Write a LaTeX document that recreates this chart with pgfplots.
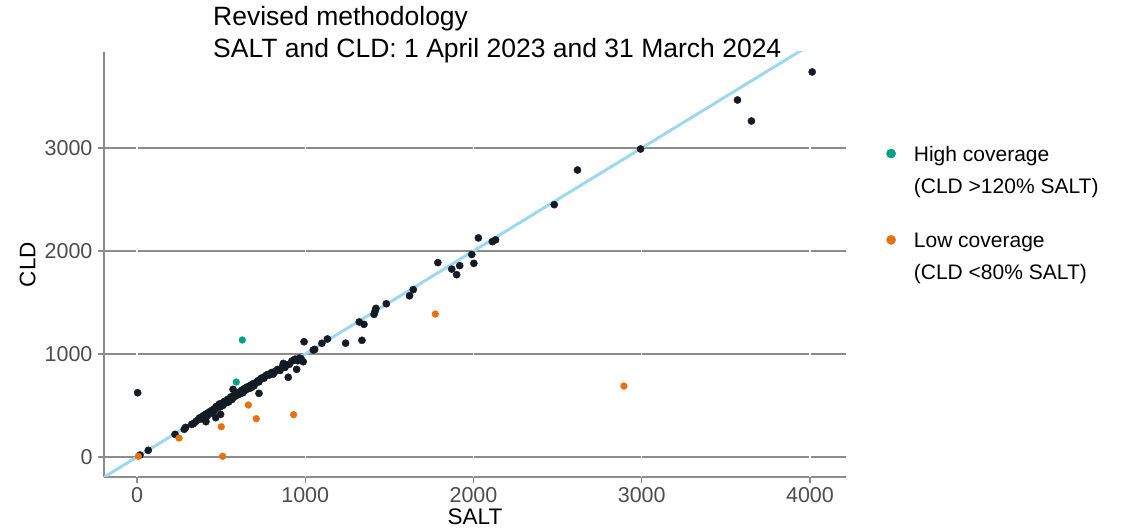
\documentclass[border=0pt]{standalone}
\usepackage{pgfplots}
\pgfplotsset{compat=1.18}
\usepackage{fontspec}
\setmainfont{Liberation Sans}
\definecolor{ptdark}{HTML}{151B24}
\definecolor{ptteal}{HTML}{00A087}
\definecolor{ptorange}{HTML}{E6720F}
\definecolor{diagblue}{HTML}{9ED8EE}
\definecolor{gridgrey}{HTML}{8C8C8C}
\definecolor{ticktext}{HTML}{4D4D4D}
\begin{document}
\begin{tikzpicture}[x=1pt,y=1pt]
\useasboundingbox (0,0) rectangle (1127,530);
\begin{axis}[
  at={(104pt,53pt)}, anchor=south west,
  width=742pt, height=425pt, scale only axis,
  xmin=-196, xmax=4214, ymin=-194, ymax=3932,
  axis x line*=bottom, axis y line*=left,
  axis line style={draw=gridgrey, line width=1.3pt, -},
  xtick={0,1000,2000,3000,4000},
  ytick={0,1000,2000,3000},
  minor tick num=0,
  tick align=outside, major tick length=6pt,
  tick style={draw=gridgrey, line width=1.1pt},
  ymajorgrids=true,
  grid style={draw=gridgrey, line width=1.3pt},
  /pgf/number format/assume math mode=true,
  /pgf/number format/1000 sep={},
  ticklabel style={font=\fontsize{21.5}{24}\selectfont, text=ticktext},
  xticklabel style={yshift=-1pt},
  yticklabel style={xshift=-2pt},
  xlabel={SALT}, ylabel={CLD},
  xlabel style={at={(axis description cs:0.5,-0.094)}, anchor=center, font=\fontsize{22.5}{26}\selectfont},
  ylabel style={at={(axis description cs:-0.103,0.5)}, anchor=center, font=\fontsize{22.5}{26}\selectfont},
  clip=true,
  legend style={at={(axis description cs:1.05,0.62)}, anchor=west, draw=none, fill=none,
    font=\fontsize{21}{32}\selectfont, cells={align=left, anchor=west}, row sep=34pt, column sep=16pt},
  legend image code/.code={\fill[#1] (0.1cm,17pt) circle (4.6pt);},
  legend cell align=left,
]
% white vertical gridlines
\addplot[white, line width=1.3pt, forget plot] coordinates {(0,-194) (0,3932)};
\addplot[white, line width=1.3pt, forget plot] coordinates {(1000,-194) (1000,3932)};
\addplot[white, line width=1.3pt, forget plot] coordinates {(2000,-194) (2000,3932)};
\addplot[white, line width=1.3pt, forget plot] coordinates {(3000,-194) (3000,3932)};
\addplot[white, line width=1.3pt, forget plot] coordinates {(4000,-194) (4000,3932)};
% y = x line
\addplot[diagblue, line width=3pt, forget plot] coordinates {(-300,-300) (4300,4300)};
% normal coverage
\addplot[only marks, mark=*, mark size=3.6pt, color=ptdark, forget plot] coordinates {
(18,19) (67,65) (4,624) (226,220) (281,269) (289,288) (325,317) (335,323)
(410,343) (468,382) (497,414) (350,345) (365,362) (372,380) (385,372) (392,398)
(400,405) (410,418) (418,400) (425,430) (432,440) (440,425) (445,452) (452,460)
(458,448) (465,470) (470,490) (478,480) (485,500) (490,515) (495,488) (500,505)
(505,520) (510,500) (515,530) (520,540) (528,525) (535,545) (540,560) (545,535)
(550,555) (555,570) (560,585) (565,560) (570,580) (575,595) (580,600) (585,590)
(590,610) (595,620) (600,605) (605,625) (610,630) (615,615) (620,640) (625,650)
(630,625) (635,660) (640,645) (645,670) (650,655) (655,680) (660,665) (668,690)
(675,670) (680,700) (688,710) (695,690) (700,715) (710,725) (718,740) (725,730)
(735,760) (745,770) (755,765) (765,790) (775,800) (785,795) (800,820) (810,805)
(820,830) (835,850) (850,840) (865,880) (880,870) (890,895) (905,900) (920,930)
(940,950) (955,935) (965,960) (975,955)
(571,657) (725,618) (899,774) (949,851) (988,925) (870,909) (933,942) (798,812)
(993,1119) (1048,1039) (1056,1044) (1099,1104) (1132,1146) (1240,1105)
(1321,1311) (1349,1288) (1337,1133) (1409,1385) (1415,1415) (1420,1443)
(1482,1488) (1620,1565) (1642,1625) (1788,1887) (1871,1824) (1900,1770)
(1918,1858) (1990,1966) (2002,1880) (2029,2127) (2112,2091) (2131,2108)
(2480,2450) (2618,2786) (2993,2990) (3569,3466) (3652,3262) (4013,3738)
};
% high coverage
\addplot[only marks, mark=*, mark size=3.4pt, color=ptteal] coordinates {
(626,1136) (590,728)
};
\addlegendentry{High coverage\\(CLD >120\% SALT)}
% low coverage
\addplot[only marks, mark=*, mark size=3.4pt, color=ptorange] coordinates {
(8,7) (250,184) (501,294) (509,7) (662,505) (709,372) (931,411) (1773,1388) (2894,689)
};
\addlegendentry{Low coverage\\(CLD <80\% SALT)}
\end{axis}
\node[anchor=north west, align=left, font=\fontsize{26.5}{32}\selectfont, inner sep=0pt] at (213,524) {Revised methodology\\SALT and CLD: 1 April 2023 and 31 March 2024};
\end{tikzpicture}
\end{document}
